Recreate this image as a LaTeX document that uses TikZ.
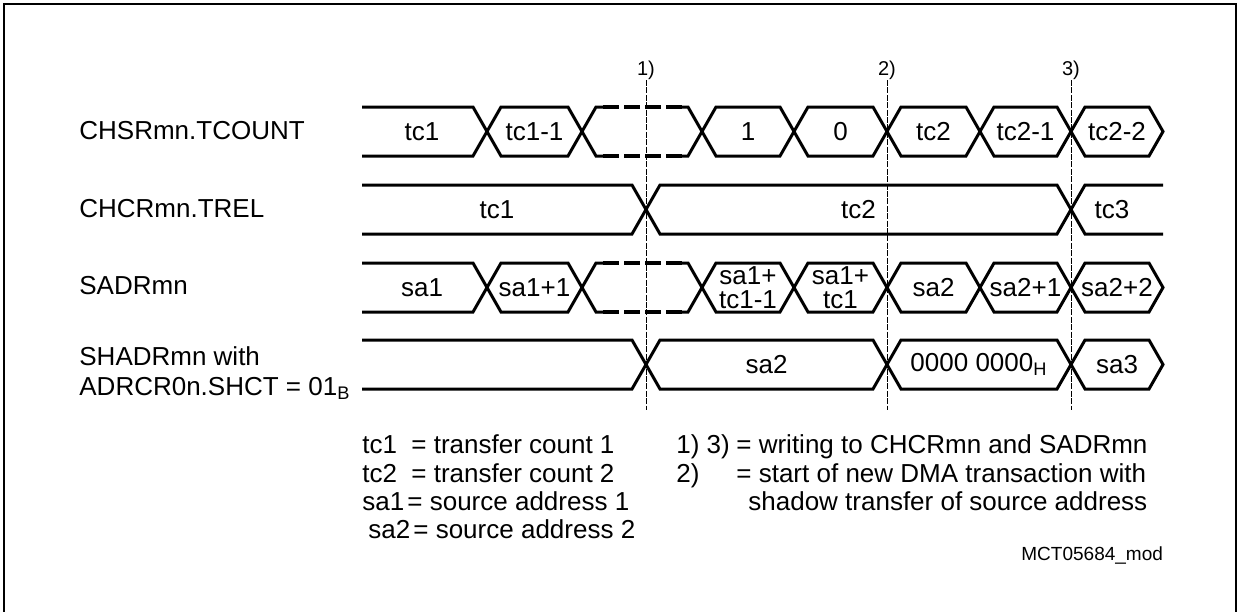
\documentclass[tikz,border=0pt]{standalone}
\usepackage{fontspec}
\setmainfont{Liberation Sans}
\usetikzlibrary{calc}
% one bus value: hexagon from x=#1 to x=#2 with its top edge at y=#3, label #5 in node #4
\def\busval(#1:#2:#3)#4#5{\draw[sig] ({#1},{#3+24.5}) -- ({#1+14},{#3}) -- ({#2-14},{#3}) -- ({#2},{#3+24.5}) -- ({#2-14},{#3+49}) -- ({#1+14},{#3+49}) -- cycle;
	\node[val] (#4) at ({(#1+#2)/2},{#3+24.5}) {#5};}

\begin{document}
\begin{tikzpicture}[x=0.5pt, y=-0.5pt,
		sig/.style={line width=1.5pt},
		skipline/.style={line width=2pt, dash pattern=on 8pt off 2.5pt},
		refline/.style={line width=0.5pt, dash pattern=on 3pt off 0.7pt},
		val/.style={font=\fontsize{13}{11.8}\selectfont, align=center, inner sep=0pt},
		signame/.style={font=\fontsize{13}{15.5}\selectfont, anchor=base west, inner sep=0pt},
		tag/.style={font=\fontsize{10}{11}\selectfont, anchor=base, inner sep=0pt},
		outline/.style={line width=0.8pt}]
			%%%%% START %%%%%
			\useasboundingbox (0,0) rectangle (1240,611);
			\draw[outline] (4,4) rectangle (1236,660);
			
			% signal names
			\node[signame] (chsr) at (79,139) {CHSRmn.TCOUNT};
			\node[signame] (chcr) at (79,217) {CHCRmn.TREL};
			\node[signame] (sadr) at (79,294) {SADRmn};
			\node[signame] (shadr) at (79,365) {SHADRmn with};
			\node[signame] (adrcr) at (79,395) {ADRCR0n.SHCT = 01\textsubscript{B}};
			
			% CHSRmn.TCOUNT
			\draw[sig] (362,107) -- (473,107) -- (487,131.5) -- (473,156) -- (362,156);
			\node[val] (tcA) at (422,131.5) {tc1};
			\busval(487:582:107){tcB}{tc1-1}
			\draw[sig] (603,107) -- (596,107) -- (582,131.5) -- (596,156) -- (603,156);
			\draw[skipline] (603,107) -- (682,107) (603,156) -- (682,156);
			\draw[sig] (682,107) -- (688,107) -- (702,131.5) -- (688,156) -- (682,156);
			\busval(702:794:107){tcC}{1}
			\busval(794:887:107){tcD}{0}
			\busval(887:980:107){tcE}{tc2}
			\busval(980:1071:107){tcF}{tc2-1}
			\busval(1071:1163:107){tcG}{tc2-2}
			
			% CHCRmn.TREL
			\draw[sig] (362,185) -- (632,185) -- (646,209.5) -- (632,234) -- (362,234);
			\node[val] (relA) at (497,209.5) {tc1};
			\busval(646:1071:185){relB}{tc2}
			\draw[sig] (1163,185) -- (1085,185) -- (1071,209.5) -- (1085,234) -- (1163,234);
			\node[val] (relC) at (1112,209.5) {tc3};
			
			% SADRmn
			\draw[sig] (362,263) -- (473,263) -- (487,287.5) -- (473,312) -- (362,312);
			\node[val] (saA) at (422,287.5) {sa1};
			\busval(487:582:263){saB}{sa1+1}
			\draw[sig] (603,263) -- (596,263) -- (582,287.5) -- (596,312) -- (603,312);
			\draw[skipline] (603,263) -- (682,263) (603,312) -- (682,312);
			\draw[sig] (682,263) -- (688,263) -- (702,287.5) -- (688,312) -- (682,312);
			\busval(702:794:263){saC}{sa1+\\tc1-1}
			\busval(794:887:263){saD}{sa1+\\tc1}
			\busval(887:980:263){saE}{sa2}
			\busval(980:1071:263){saF}{sa2+1}
			\busval(1071:1163:263){saG}{sa2+2}
			
			% SHADRmn
			\draw[sig] (362,340) -- (632,340) -- (646,364.5) -- (632,389) -- (362,389);
			\busval(646:887:340){shB}{sa2}
			\busval(887:1071:340){shC}{0000 0000\textsubscript{H}}
			\busval(1071:1163:340){shD}{sa3}
			
			% reference points
			\foreach \x/\n in {646/1, 887/2, 1071/3} {
				\draw[refline] (\x,80) -- (\x,410);
				\node[tag] (m\n) at (\x,75) {\n)};
			}
			
			% legend
			\node[signame] (lgA) at (362,453) {tc1};
			\node[signame] (lgB) at (411,453) {= transfer count 1};
			\node[signame] (lgC) at (362,482) {tc2};
			\node[signame] (lgD) at (411,482) {= transfer count 2};
			\node[signame] (lgE) at (362,510) {sa1};
			\node[signame] (lgF) at (407,510) {= source address 1};
			\node[signame] (lgG) at (368,538) {sa2};
			\node[signame] (lgH) at (413,538) {= source address 2};
			\node[signame] (lgI) at (676,453) {1) 3)};
			\node[signame] (lgJ) at (736,453) {= writing to CHCRmn and SADRmn};
			\node[signame] (lgK) at (676,482) {2)};
			\node[signame] (lgL) at (736,482) {= start of new DMA transaction with};
			\node[signame] (lgM) at (748,510) {shadow transfer of source address};
			
			\node[tag, font=\fontsize{9.5}{11}\selectfont, anchor=base west] (figid) at (1021,560) {MCT05684\_mod};
			%%%%% END %%%%%
\end{tikzpicture}
\end{document}
